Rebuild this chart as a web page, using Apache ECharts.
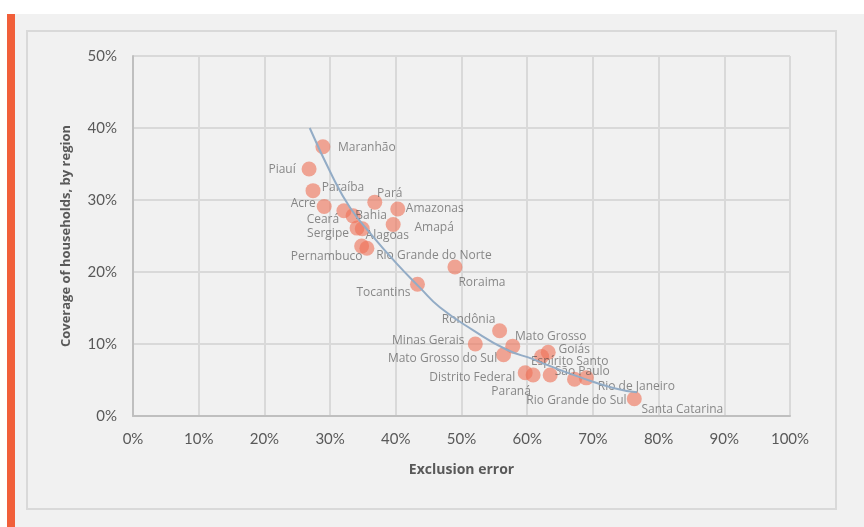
<!DOCTYPE html>
<html><head><meta charset="utf-8">
<script src="https://cdn.jsdelivr.net/npm/echarts@6/dist/echarts.min.js"></script>
<style>html,body{margin:0;padding:0;background:#fff}#c{width:864px;height:527px}</style>
</head><body><div id="c"></div>
<script>
// Data (percent)
const regions = ["Maranhão","Piauí","Paraíba","Acre","Pará","Amazonas","Ceará","Bahia","Amapá","Sergipe","Alagoas","Pernambuco","Rio Grande do Norte","Roraima","Tocantins","Rondônia","Minas Gerais","Mato Grosso","Mato Grosso do Sul","Distrito Federal","Paraná","Goiás","Espírito Santo","São Paulo","Rio de Janeiro","Rio Grande do Sul","Santa Catarina"];
const exclusionError = [28.9,26.8,27.4,29.1,36.8,40.3,32.1,33.5,39.6,34.1,34.9,34.8,35.6,49.0,43.3,55.8,52.1,57.8,56.4,59.7,60.9,63.2,62.2,63.5,69.0,67.2,76.3];
const coverage = [37.4,34.3,31.3,29.1,29.7,28.75,28.5,27.8,26.6,26.1,26.0,23.6,23.3,20.7,18.3,11.85,10.0,9.7,8.5,6.0,5.7,8.85,8.25,5.7,5.3,5.1,2.4];
// Trend line
const trendX = [26.9,30.4,33.0,36.0,40.0,43.7,46.7,51.8,56.9,60.9,63.0,68.0,73.1,76.7];
const trendY = [40.0,33.2,29.0,25.5,21.3,17.8,15.1,11.9,9.2,7.9,7.1,5.4,3.9,3.3];
const xTicks = [0,10,20,30,40,50,60,70,80,90,100];
const yTicks = [0,10,20,30,40,50];

// Label placement (pixel offsets from marker center), layout only
const labelOffsets = {
 "Maranhão":[44,1],"Piauí":[-27,1],"Paraíba":[30,-3],"Acre":[-21,-3],"Pará":[15,-9],"Amazonas":[37,0],
 "Ceará":[-21,9],"Bahia":[18,0],"Amapá":[41,3],"Sergipe":[-29,5],"Alagoas":[25,7],"Pernambuco":[-35,10],
 "Rio Grande do Norte":[67,7],"Roraima":[27,16],"Tocantins":[-34,8],"Rondônia":[-31,-11],"Minas Gerais":[-47,-3],
 "Mato Grosso":[38,-10],"Mato Grosso do Sul":[-61,4],"Distrito Federal":[-53,5],"Paraná":[-22,17],"Goiás":[26,-3],
 "Espírito Santo":[28,5],"São Paulo":[32,-3],"Rio de Janeiro":[50,9],"Rio Grande do Sul":[2,21],"Santa Catarina":[48,11]
};

const scatterData = regions.map((r,i)=>({
  name:r, value:[exclusionError[i],coverage[i]],
  label:{offset:labelOffsets[r]}
}));
const trendData = trendX.map((x,i)=>[x,trendY[i]]);

const chart = echarts.init(document.getElementById('c'),null,{renderer:'canvas'});
const tickFont = {color:'#595959',fontSize:15,fontFamily:'Lato'};
chart.setOption({
  backgroundColor:'#ffffff',
  animation:false,
  graphic:[
    {type:'rect',z:-10,shape:{x:15,y:14,width:849,height:513},style:{fill:'#f1f1f1'}},
    {type:'rect',z:-9,shape:{x:7,y:14,width:8,height:513},style:{fill:'#f15f3a'}},
    {type:'rect',z:-9,shape:{x:27,y:31,width:809,height:478},style:{fill:'none',stroke:'#d9d9d9',lineWidth:2}}
  ],
  grid:{left:133,right:74,top:56,bottom:111},
  xAxis:{type:'value',min:0,max:100,interval:10,
    name:'Exclusion error',nameLocation:'middle',nameGap:47,
    nameTextStyle:{color:'#595959',fontSize:14,fontWeight:'bold',fontFamily:'Open Sans'},
    axisLine:{show:true,lineStyle:{color:'#bfbfbf',width:2}},
    axisTick:{show:false},
    axisLabel:Object.assign({margin:16,formatter:'{value}%'},tickFont),
    splitLine:{show:true,lineStyle:{color:'#d9d9d9',width:2}}},
  yAxis:{type:'value',min:0,max:50,interval:10,
    name:'Coverage of households, by region',nameLocation:'middle',nameGap:60,
    nameTextStyle:{color:'#595959',fontSize:13,fontWeight:'bold',fontFamily:'Open Sans'},
    axisLine:{show:true,lineStyle:{color:'#bfbfbf',width:2}},
    axisTick:{show:false},
    axisLabel:Object.assign({margin:16,formatter:'{value}%'},tickFont),
    splitLine:{show:true,lineStyle:{color:'#d9d9d9',width:2}}},
  series:[
    {type:'scatter',z:2,symbolSize:15,data:scatterData,
     itemStyle:{color:'#ee6f55',opacity:0.6},
     label:{show:true,position:'inside',formatter:'{b}',color:'#404040',fontSize:12,fontFamily:'Open Sans'},
     emphasis:{disabled:true}},
    {type:'line',z:3,data:trendData,showSymbol:false,smooth:true,
     lineStyle:{color:'#93acc6',width:2},emphasis:{disabled:true}}
  ]
});
</script></body></html>
